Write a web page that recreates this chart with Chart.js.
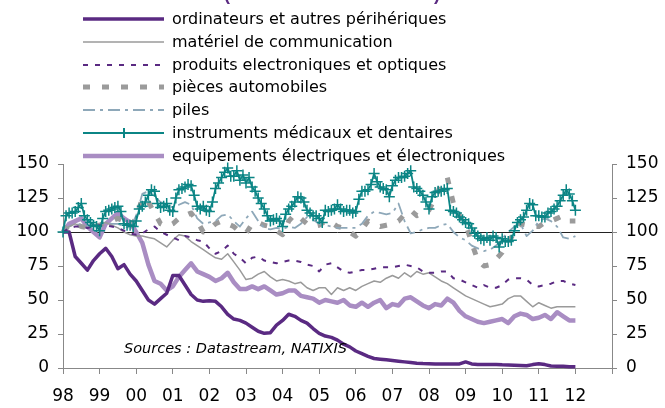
<!DOCTYPE html>
<html>
<head>
<meta charset="utf-8">
<script src="https://cdn.jsdelivr.net/npm/chart.js@4.4.1/dist/chart.umd.min.js"></script>
<style>
  html, body { margin: 0; padding: 0; background: #fff; }
  #wrap { position: relative; width: 665px; height: 408px; overflow: hidden; font-family: "DejaVu Sans", sans-serif; }
  #chart { position: absolute; left: 0; top: 0; }
  .row { position: absolute; left: 83px; height: 22px; line-height: 22px; font-size: 16px; color: #000; white-space: nowrap; }
  .row svg { position: absolute; left: 0; top: 6px; }
  .row span { position: absolute; left: 89px; top: 0; }
  #source { position: absolute; left: 124px; top: 340px; font-size: 14.5px; font-style: italic; color: #000; white-space: nowrap; }
</style>
</head>
<body>
<div id="wrap">
  <canvas id="chart" width="665" height="408"></canvas>
  <div id="legend"></div>
  <div id="source">Sources : Datastream, NATIXIS</div>
</div>
<script>
// series start Jan 1998; most are read every 2 months, the medical one monthly
const startYear = 1998;

const yearLabels = ['98', '99', '00', '01', '02', '03', '04', '05', '06', '07', '08', '09', '10', '11', '12'];
const yTicks = [0, 25, 50, 75, 100, 125, 150];

const ordinateurs = [
  100, 100, 82, 77, 72, 79,
  84, 88, 82, 73, 76, 69,
  64, 57, 50, 47, 51, 55,
  68, 68, 61, 54, 50, 49,
  49.5, 49, 45, 39.5, 36, 35,
  33, 30, 27, 25.5, 26, 31.5,
  35, 39.5, 38, 35, 33, 29,
  25.5, 23.5, 22.5, 20.5, 17.5, 15.5,
  12.5, 10.5, 8.5, 7, 6.5, 6,
  5.5, 5, 4.5, 4, 3.5, 3.3,
  3.2, 3, 3, 3, 3, 3,
  4.5, 3, 2.5, 2.5, 2.5, 2.5,
  2.3, 2.2, 2, 1.8, 1.6, 2.5,
  3.2, 2.5, 1.5, 1.3, 1.2, 1,
  1
];
const materiel = [
  100, 104, 106, 104, 103, 105,
  106, 107, 105, 103, 100, 98,
  97, 97, 96, 95, 92, 89,
  94, 98, 97, 93, 90, 87,
  84, 81, 80, 84, 78, 72,
  65, 66, 69, 71, 67, 64,
  65, 64, 62, 63, 59, 57,
  59, 59, 54, 59, 57, 59,
  57, 60, 62, 64, 63, 66,
  68, 66, 70, 67, 71, 69,
  70, 67, 64, 62, 59, 56,
  53, 51, 49, 47, 45, 46,
  47, 51, 53, 53, 49, 45,
  48, 46, 44, 45, 45, 45,
  45
];
const produits = [
  100, 103, 104, 104, 103, 104,
  105, 105, 104, 103, 101, 99,
  98, 99, 102, 104, 100, 98,
  96, 94, 97, 96, 94, 93,
  88, 84, 86, 90, 84, 81,
  77, 81, 82, 79, 78, 77,
  78, 79, 79, 78, 76, 75,
  71, 76, 77, 74, 71, 70,
  71, 72, 72, 73, 74, 74,
  74, 75, 76, 75, 74, 71,
  70, 70, 71, 71, 66, 65,
  63, 61, 59, 61, 59, 59,
  61, 65, 66, 66, 65, 61,
  60, 61, 62, 64, 64, 62,
  61
];
const pieces = [
  100, 105, 106, 104, 103, 104,
  105, 107, 108, 110, 108, 104,
  110, 125, 122, 114, 106, 104,
  106, 110, 112, 114, 108, 100,
  102, 106, 108, 106, 104, 100,
  99, 106, 107, 105, 104, 101,
  98, 108, 113, 110, 106, 104,
  105, 108, 107, 104, 103, 100,
  97, 102, 108, 106, 104, 105,
  106, 108, 113, 116, 112, 114,
  116, 125, 135, 140, 121, 112,
  106, 92, 79, 75, 76, 80,
  85, 92, 100, 106, 105, 104,
  104, 107, 108, 110, 112, 108,
  108
];
const piles = [
  100, 104, 106, 105, 104, 105,
  106, 107, 106, 106, 104, 103,
  112, 128, 130, 126, 122, 120,
  118, 120, 122, 120, 110, 106,
  107, 108, 112, 113, 108, 104,
  110, 115, 108, 103, 102, 103,
  102, 104, 103, 106, 111, 109,
  106, 105, 104, 103, 103, 103,
  103, 106, 112, 115, 114, 113,
  114, 121, 108, 99, 100, 102,
  103, 103, 105, 106, 100, 96,
  94, 90, 88, 86, 87, 90,
  95, 100, 104, 106, 97, 101,
  108, 110, 108, 104, 96, 95,
  97
];
// monthly
const medicaux = [
  100, 112, 114, 114, 115, 118, 121, 112, 109, 107, 105, 104,
  101, 110, 115, 116, 117, 118, 119, 115, 106, 105, 105, 104,
  108, 117, 119, 122, 127, 131, 130, 121, 118, 119, 121, 116,
  115, 125, 131, 132, 133, 135, 134, 127, 119, 117, 119, 116,
  115, 122, 132, 136, 140, 144, 147, 141, 141, 145, 138, 142,
  136, 140, 133, 130, 125, 121, 117, 112, 108, 109, 110, 108,
  104, 113, 117, 119, 122, 126, 125, 122, 116, 114, 112, 112,
  110, 107, 116, 115, 116, 117, 120, 117, 115, 116, 116, 114,
  115, 124, 130, 130, 131, 135, 143, 137, 133, 132, 131, 126,
  134, 138, 140, 140, 141, 143, 145, 133, 132, 130, 127, 122,
  117, 126, 129, 130, 130, 131, 132, 116, 115, 114, 111, 109,
  107, 106, 103, 99, 97, 95, 94, 96, 94, 97, 96, 89,
  95, 93, 93, 94, 101, 107, 109, 111, 116, 121, 120, 112,
  112, 111, 111, 114, 115, 117, 119, 123, 127, 131, 128, 123,
  116
];
const equipements = [
  100, 106, 108, 110, 104, 100,
  96, 106, 110, 114, 110, 107,
  100, 92, 76, 64, 62, 57,
  60, 67, 72, 77, 71, 69,
  67, 64, 66, 70, 63, 58,
  58, 60, 58, 60, 57, 54,
  55, 57, 57, 53, 52, 51,
  48, 50, 49, 48, 50, 46,
  45, 48, 45, 48, 50, 44,
  47, 46, 51, 52, 49, 46,
  44, 47, 46, 51, 48, 42,
  38, 36, 34, 33, 34, 35,
  36, 33, 38, 40, 39, 36,
  37, 39, 36, 41, 38, 35,
  35
];

const FONT = '"DejaVu Sans", sans-serif';
const PURPLE = '#5a2a82';

function toPoints(values, perYear) {
  return values.map((v, i) => ({ x: startYear + i / perYear, y: v }));
}

const series = [
  { label: 'ordinateurs et autres périhériques', data: ordinateurs, perYear: 6, color: PURPLE, width: 3.5, dash: [], order: 1 },
  { label: 'matériel de communication', data: materiel, perYear: 6, color: '#9a9a9a', width: 1.5, dash: [], order: 3 },
  { label: 'produits electroniques et optiques', data: produits, perYear: 6, color: PURPLE, width: 2, dash: [5, 7], order: 2 },
  { label: 'pièces automobiles', data: pieces, perYear: 6, color: '#9b9b9b', width: 5, dash: [7, 12], order: 5 },
  { label: 'piles', data: piles, perYear: 6, color: '#8ea8b9', width: 1.8, dash: [12, 5, 3, 5], order: 4 },
  { label: 'instruments médicaux et dentaires', data: medicaux, perYear: 12, color: '#0b8585', width: 1.8, dash: [], order: 0, cross: true },
  { label: 'equipements électriques et électroniques', data: equipements, perYear: 6, color: '#a98dc3', width: 4.5, dash: [], order: 6 }
];

// html legend
const legend = document.getElementById('legend');
series.forEach((s, i) => {
  const row = document.createElement('div');
  row.className = 'row';
  row.style.top = (8 + i * 22.8) + 'px';
  const dash = s.dash.length ? ` stroke-dasharray="${s.dash.join(' ')}"` : '';
  let svg = `<svg width="82" height="10"><line x1="0" y1="5" x2="81" y2="5" stroke="${s.color}" stroke-width="${s.width}"${dash}/>`;
  if (s.cross) svg += `<line x1="41" y1="-1" x2="41" y2="11" stroke="${s.color}" stroke-width="2"/>`;
  svg += '</svg>';
  row.innerHTML = svg + `<span>${s.label}</span>`;
  legend.appendChild(row);
});

const refLine = {
  id: 'refLine',
  beforeDatasetsDraw(chart) {
    const { ctx, chartArea, scales } = chart;
    const y = Math.round(scales.y.getPixelForValue(100)) + 0.5;
    ctx.save();
    ctx.strokeStyle = '#222';
    ctx.lineWidth = 1;
    ctx.beginPath();
    ctx.moveTo(chartArea.left, y);
    ctx.lineTo(chartArea.right, y);
    ctx.stroke();
    ctx.restore();
  }
};

// title sits above the frame, only the bottoms of its brackets show
const cutTitle = {
  id: 'cutTitle',
  afterDraw(chart) {
    const ctx = chart.ctx;
    ctx.save();
    ctx.font = 'bold 18px "Liberation Sans", Arial, sans-serif';
    ctx.fillStyle = PURPLE;
    ctx.textAlign = 'center';
    ctx.textBaseline = 'alphabetic';
    ctx.fillText('(indice base 100 en 1998)', 332, 0);
    ctx.restore();
  }
};

const axisTicks = {
  color: '#000',
  font: { family: FONT, size: 17 }
};

function yAxis(position, width) {
  return {
    type: 'linear',
    position: position,
    min: 0,
    max: 150,
    afterBuildTicks: (scale) => { scale.ticks = yTicks.map(v => ({ value: v })); },
    afterFit: (scale) => { scale.width = width; },
    grid: { drawOnChartArea: false, drawTicks: true, tickLength: 5, color: '#888' },
    border: { display: true, color: '#888', width: 1 },
    ticks: Object.assign({ padding: 9 }, axisTicks)
  };
}

new Chart(document.getElementById('chart'), {
  type: 'line',
  data: {
    datasets: series.map(s => ({
      label: s.label,
      data: toPoints(s.data, s.perYear),
      borderColor: s.color,
      backgroundColor: s.color,
      borderWidth: s.width,
      borderDash: s.dash,
      borderCapStyle: 'butt',
      borderJoinStyle: 'round',
      tension: 0,
      fill: false,
      order: s.order,
      clip: false,
      pointStyle: s.cross ? 'cross' : 'circle',
      pointRadius: s.cross ? 5.5 : 0,
      pointBorderWidth: 1.5,
      pointBorderColor: s.color
    }))
  },
  options: {
    responsive: false,
    animation: false,
    devicePixelRatio: 1,
    layout: { padding: { top: 164, left: 0, right: 0, bottom: 0 } },
    plugins: {
      legend: { display: false },
      tooltip: { enabled: false }
    },
    scales: {
      x: {
        type: 'linear',
        min: 1998,
        max: 2013,
        afterBuildTicks: (scale) => {
          const t = [];
          for (let i = 0; i <= yearLabels.length; i++) t.push({ value: startYear + i });
          scale.ticks = t;
        },
        afterFit: (scale) => { scale.height = 40; },
        grid: { drawOnChartArea: false, drawTicks: true, tickLength: 6, color: '#888' },
        border: { display: true, color: '#888', width: 1 },
        ticks: Object.assign({
          padding: 12,
          maxRotation: 0,
          autoSkip: false,
          callback: (v, i) => yearLabels[i] || ''
        }, axisTicks)
      },
      y: yAxis('left', 63),
      y2: yAxis('right', 53)
    }
  },
  plugins: [refLine, cutTitle]
});
</script>
</body>
</html>
